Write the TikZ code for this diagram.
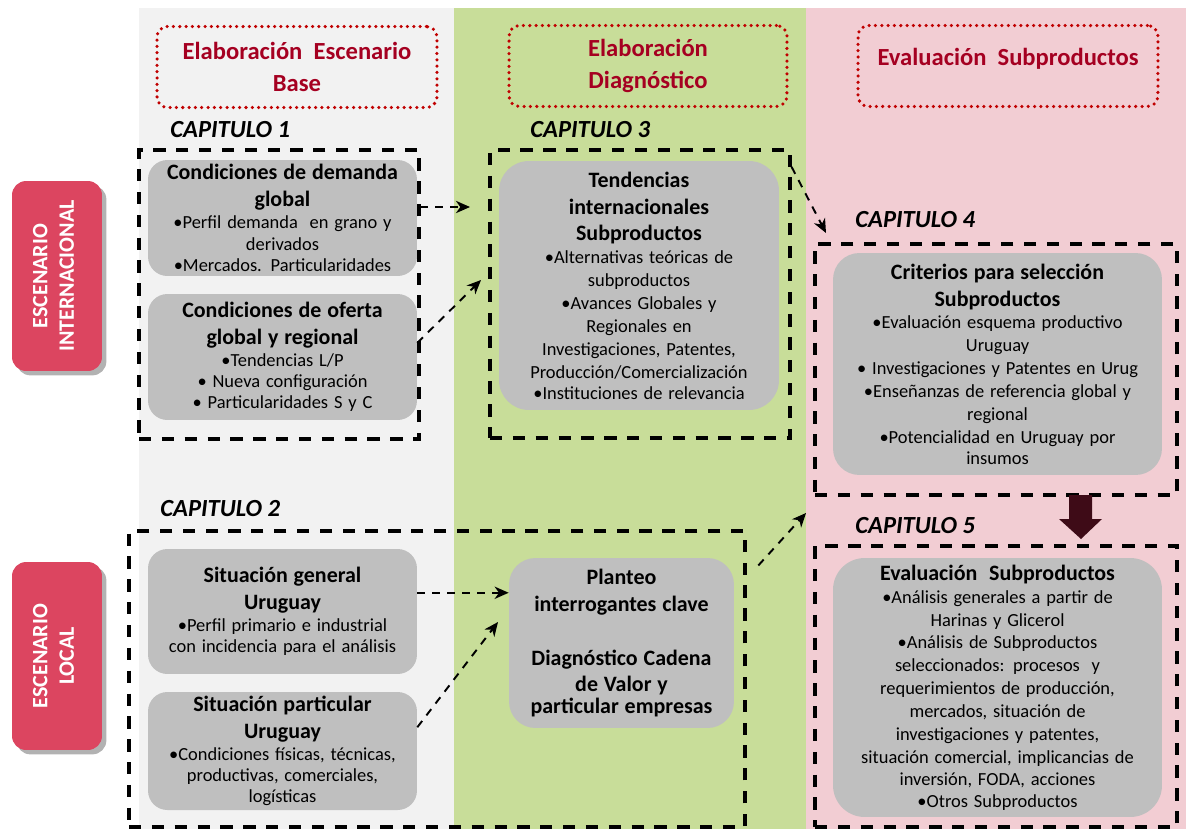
\documentclass[tikz,border=0pt]{standalone}
\usepackage{fontspec}
\setmainfont{Carlito}
\usepackage{tikz}
\usetikzlibrary{arrows.meta, shadows}

\definecolor{fondogris}{HTML}{F2F2F2}
\definecolor{fondoverde}{HTML}{C8DD99}
\definecolor{fondorosa}{HTML}{F2CDD3}
\definecolor{grisbox}{HTML}{BFBFBF}
\definecolor{rojotexto}{HTML}{A50021}
\definecolor{rojopunto}{HTML}{C00000}
\definecolor{rojolateral}{HTML}{DC4560}
\definecolor{granate}{HTML}{3E0B17}

\newcommand{\titulo}{\fontsize{12.5}{15.3}\selectfont\bfseries}
\newcommand{\cuerpo}{\fontsize{10.5}{12.4}\selectfont\mdseries}
\newcommand{\cuerpoalto}{\fontsize{10.5}{13}\selectfont\mdseries}

\tikzset{
  cabecera/.style={draw=rojopunto, line width=2pt, dash pattern=on 0pt off 3.6pt, line cap=round,
    rounded corners=6pt, text=rojotexto, font=\fontsize{14}{18}\selectfont\bfseries, align=center,
    minimum height=1.62cm},
  capitulo/.style={font=\fontsize{14}{16}\selectfont\bfseries\itshape, anchor=west, inner sep=0pt},
  marco/.style={draw, line width=1.8pt, dash pattern=on 7pt off 6pt},
  cajagris/.style={fill=grisbox, rounded corners=11pt, align=center, inner xsep=0pt, inner ysep=2pt},
  lateral/.style={fill=rojolateral, rounded corners=8pt, minimum width=1.8cm,
    drop shadow={shadow xshift=2.5pt, shadow yshift=-2.5pt, fill=black, opacity=0.3}},
  textolateral/.style={rotate=90, text=white, font=\fontsize{12.5}{15}\selectfont\bfseries, align=center},
  flecha/.style={-{Stealth[length=8pt, width=7pt, inset=2.5pt]}, line width=1.1pt, dash pattern=on 4.5pt off 4pt},
}

\begin{document}
\begin{tikzpicture}[x=0.02cm, y=-0.02cm]
\useasboundingbox (0,0) rectangle (1190,829);

\fill[fondogris] (139,8) rectangle (454,829);
\fill[fondoverde] (454,8) rectangle (806,829);
\fill[fondorosa] (806,8) rectangle (1186,829);

\node[cabecera, minimum width=5.6cm] (h1) at (297,67) {Elaboración~ Escenario\\Base};
\node[cabecera, minimum width=5.56cm] (h2) at (648,66) {Elaboración\\Diagnóstico};
\node[cabecera, minimum width=6cm, text depth=10pt] (h3) at (1008,66) {Evaluación~ Subproductos};

\node[lateral, minimum height=3.8cm] (s1) at (57,276) {};
\node[textolateral] at ([xshift=-2pt]s1.center) {ESCENARIO\\INTERNACIONAL};
\node[lateral, minimum height=3.76cm] (s2) at (57,656) {};
\node[textolateral] at ([xshift=-2pt]s2.center) {ESCENARIO\\LOCAL};

\node[capitulo] (c1) at (170,130) {CAPITULO 1};
\node[capitulo] (c3) at (530,130) {CAPITULO 3};
\node[capitulo] (c4) at (855,220) {CAPITULO 4};
\node[capitulo] (c2) at (160,509) {CAPITULO 2};
\node[capitulo] (c5) at (855,526) {CAPITULO 5};

\node[cajagris, text width=5.38cm, minimum height=2.32cm] (dem) at (282.5,218)
  {\titulo Condiciones de demanda\\global\par
   \cuerpo •Perfil demanda\ \ en grano y\\derivados\\•Mercados. Particularidades};
\node[cajagris, text width=5.38cm, minimum height=2.52cm] (ofe) at (282.5,357)
  {\titulo Condiciones de oferta\\global y regional\par
   \cuerpo •Tendencias L/P\\• Nueva configuración\\• Particularidades S y C};
\node[cajagris, text width=5.6cm, minimum height=4.98cm, rounded corners=17pt] (ten) at (639,285.5)
  {\titulo Tendencias\\internacionales\\Subproductos\par
   \cuerpoalto •Alternativas teóricas de\\subproductos\\•Avances Globales y\\Regionales en\\
   Investigaciones, Patentes,\\Producción/Comercialización\\•Instituciones de relevancia};
\node[cajagris, text width=6.58cm, minimum height=4.44cm, rounded corners=15pt] (cri) at (997.5,364)
  {\titulo Criterios para selección\\Subproductos\par
   \cuerpoalto •Evaluación esquema productivo\\Uruguay\\• Investigaciones y Patentes en Urug\\
   •Enseñanzas de referencia global y\\regional\\•Potencialidad en Uruguay por\\insumos};
\node[cajagris, text width=5.38cm, minimum height=2.5cm] (sgen) at (282.5,611.5)
  {\titulo Situación general\\Uruguay\par
   \cuerpo •Perfil primario e industrial\\con incidencia para el análisis};
\node[cajagris, text width=5.38cm, minimum height=2.36cm] (spar) at (282.5,751)
  {\titulo Situación particular\\Uruguay\par
   \cuerpo •Condiciones físicas, técnicas,\\productivas, comerciales,\\logísticas};
\node[cajagris, text width=4.5cm, minimum height=3.4cm, rounded corners=15pt] (pla) at (621.5,643)
  {\titulo Planteo\\interrogantes clave\\[15pt]Diagnóstico Cadena\\de Valor y\\particular empresas};
\node[cajagris, text width=6.58cm, minimum height=5.18cm, rounded corners=18pt] (eva) at (997.5,687.5)
  {\titulo Evaluación~ Subproductos\par
   \cuerpoalto •Análisis generales a partir de\\Harinas y Glicerol\\•Análisis de Subproductos\\
   seleccionados: procesos~ y\\requerimientos de producción,\\mercados, situación de\\
   investigaciones y patentes,\\situación comercial, implicancias de\\inversión, FODA, acciones\\
   •Otros Subproductos};

\node[marco, minimum width=5.6cm, minimum height=5.78cm] (m1) at (279,294.5) {};
\node[marco, minimum width=6cm, minimum height=5.76cm] (m3) at (640,294) {};
\node[marco, minimum width=7.24cm, minimum height=5.02cm] (m4) at (996,369.5) {};
\node[marco, minimum width=12.32cm, minimum height=5.92cm] (m2) at (437,679) {};
\node[marco, minimum width=7.24cm, minimum height=5.62cm] (m5) at (996,686.5) {};

\coordinate (p1) at (470,207);
\coordinate (p2) at (481,280);
\coordinate (p3) at (826,233);
\coordinate (p4) at (498,622);
\coordinate (p5) at (806,513);

\draw[flecha] (m1.east |- p1) -- (p1);
\draw[flecha] (ofe.6) -- (p2);
\draw[flecha] (m3.40) -- (p3);
\draw[flecha] (sgen.east |- pla.156) -- (pla.156);
\draw[flecha] (spar.10) -- (p4);
\draw[flecha, shorten <=10pt] (m2.18) -- (p5);

\fill[granate] (1069,495) -- (1092,495) -- (1092,519) -- (1102,519) -- (1081,539)
  -- (1059,519) -- (1069,519) -- cycle;
\end{tikzpicture}
\end{document}
